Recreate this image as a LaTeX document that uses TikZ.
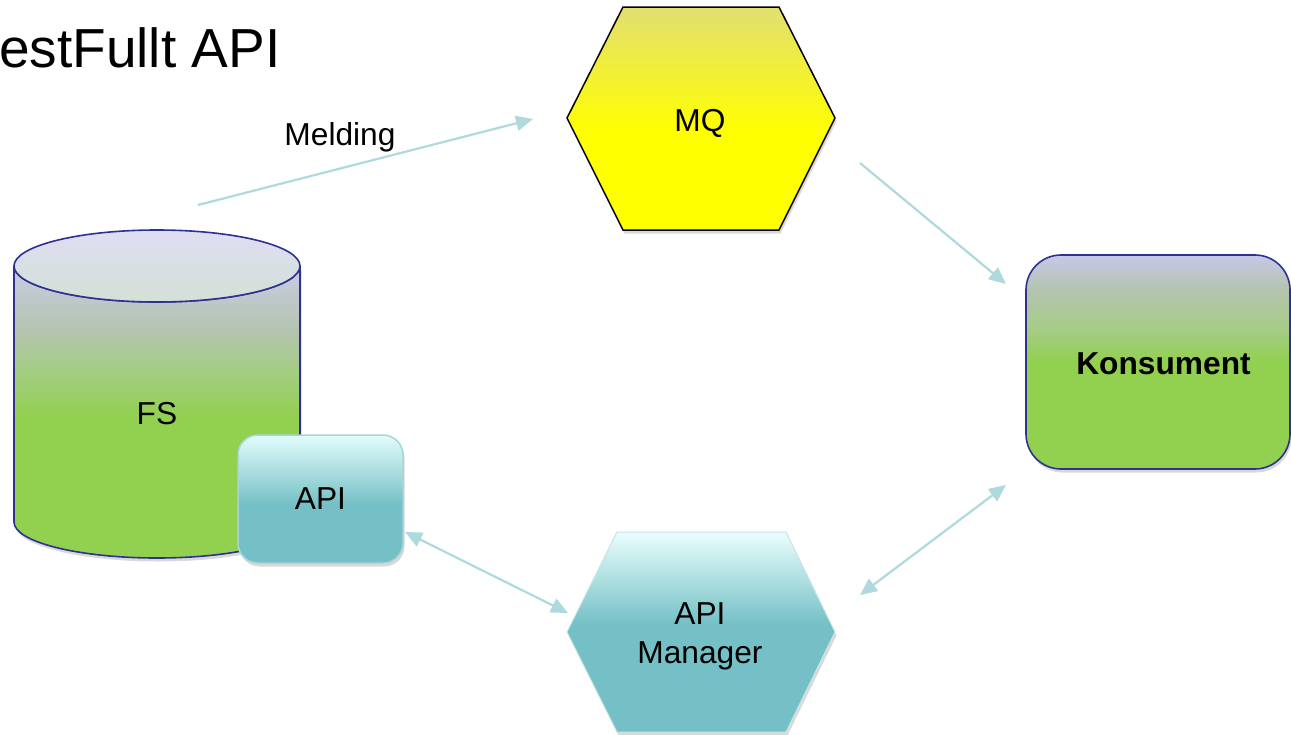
\documentclass[tikz,border=0pt]{standalone}
\usepackage{fontspec}
\setmainfont{Liberation Sans}
\usetikzlibrary{arrows.meta,shadows}
\definecolor{navy}{HTML}{2E3192}
\definecolor{arrowc}{HTML}{AED9DD}
\definecolor{greenA}{HTML}{92D050}
\definecolor{greenB}{HTML}{A6CC88}
\definecolor{grayB}{HTML}{B4C4B0}
\definecolor{lavA}{HTML}{C8CCE4}
\definecolor{lavK}{HTML}{C8C8E8}
\definecolor{tealA}{HTML}{74C0C6}
\definecolor{tealB}{HTML}{A8DCDE}
\definecolor{tealC}{HTML}{E2FCFC}
\definecolor{tealD}{HTML}{EAFDFD}
\definecolor{mqtop}{HTML}{E2DF72}
\definecolor{mqyel}{HTML}{FFFF00}
\definecolor{toptop}{HTML}{DEDEF2}
\definecolor{topbot}{HTML}{D4E0D6}
\definecolor{apiline}{HTML}{A6D6DA}
\definecolor{apimline}{HTML}{C8E4E6}
\pgfdeclareverticalshading{mqshade}{100bp}{color(0bp)=(mqyel); color(47bp)=(mqyel); color(75bp)=(mqtop); color(100bp)=(mqtop)}
\pgfdeclareverticalshading{cylshade}{100bp}{color(0bp)=(greenA); color(49bp)=(greenA); color(58bp)=(greenB); color(64bp)=(grayB); color(75bp)=(lavA); color(100bp)=(lavA)}
\pgfdeclareverticalshading{konshade}{100bp}{color(0bp)=(greenA); color(50bp)=(greenA); color(58bp)=(greenB); color(67bp)=(grayB); color(75bp)=(lavK); color(100bp)=(lavK)}
\pgfdeclareverticalshading{apishade}{100bp}{color(0bp)=(tealA); color(48bp)=(tealA); color(60bp)=(tealB); color(75bp)=(tealC); color(100bp)=(tealC)}
\pgfdeclareverticalshading{apimshade}{100bp}{color(0bp)=(tealA); color(52bp)=(tealA); color(62bp)=(tealB); color(75bp)=(tealD); color(100bp)=(tealD)}
\tikzset{
  lbl/.style={font=\fontsize{31.7}{39}\selectfont, inner sep=0pt, align=center},
  arr/.style={draw=arrowc, line width=2.2pt, -{Triangle[length=17pt,width=15pt]}},
  darr/.style={draw=arrowc, line width=2.2pt, {Triangle[length=17pt,width=15pt]}-{Triangle[length=17pt,width=15pt]}},
  shad/.style={drop shadow={opacity=0.3, shadow xshift=1.5pt, shadow yshift=-3.5pt}},
}
\begin{document}
\begin{tikzpicture}[x=1pt,y=-1pt]
\useasboundingbox (0,0) rectangle (1291,734);
% title
\node[font=\fontsize{55}{66}\selectfont, inner sep=0pt, anchor=base west] (title) at (-1,67) {estFullt API};
% MQ hexagon
\path[draw=black, line width=1.5pt, shading=mqshade, shad]
  (623,7) -- (779,7) -- (835,118) -- (779,230) -- (623,230) -- (567,118) -- cycle;
\node[lbl, anchor=base] (mq) at (700,131) {MQ};
% API Manager hexagon
\path[draw=apimline, line width=1pt, shading=apimshade, shad]
  (617,532) -- (786,532) -- (835,632) -- (786,732) -- (617,732) -- (567,632) -- cycle;
\node[lbl] (apim) at (700,636) {API\\Manager};
% cylinder FS
\path[draw=navy, line width=1.6pt, shading=cylshade, shad]
  (14,266) -- (14,522) arc[start angle=180, end angle=0, x radius=143, y radius=36]
  -- (300,266) arc[start angle=0, end angle=180, x radius=143, y radius=36] -- cycle;
\path[draw=navy, line width=1.6pt, top color=toptop, bottom color=topbot]
  (157,266) ellipse[x radius=143, y radius=36];
\node[lbl, anchor=base] (fs) at (157,424) {FS};
% API box
\node[lbl, draw=apiline, line width=1.5pt, rounded corners=20pt, shading=apishade, shad,
  minimum width=165pt, minimum height=128pt] (api) at (320.5,499) {API};
% Konsument
\node[draw=navy, line width=1.6pt, rounded corners=35pt,
  shading=konshade, shad, minimum width=264pt, minimum height=214pt] (kons) at (1158,362) {};
\node[lbl, font=\fontsize{31.7}{39}\selectfont\bfseries, anchor=base] (konslbl) at (1163.5,374) {Konsument};
% arrows
\coordinate (a1s) at (198,205);
\coordinate (a1e) at (533,119);
\coordinate (a2s) at (860,163);
\coordinate (a2e) at (1006,284);
\coordinate (a3s) at (860,595);
\coordinate (a3e) at (1006,485);
\coordinate (a4s) at (405,532);
\coordinate (a4e) at (568,613);
\draw[arr] (a1s) -- (a1e);
\node[lbl, anchor=base] (meld) at (340,145) {Melding};
\draw[arr] (a2s) -- (a2e);
\draw[darr] (a3s) -- (a3e);
\draw[darr] (a4s) -- (a4e);
\end{tikzpicture}
\end{document}
